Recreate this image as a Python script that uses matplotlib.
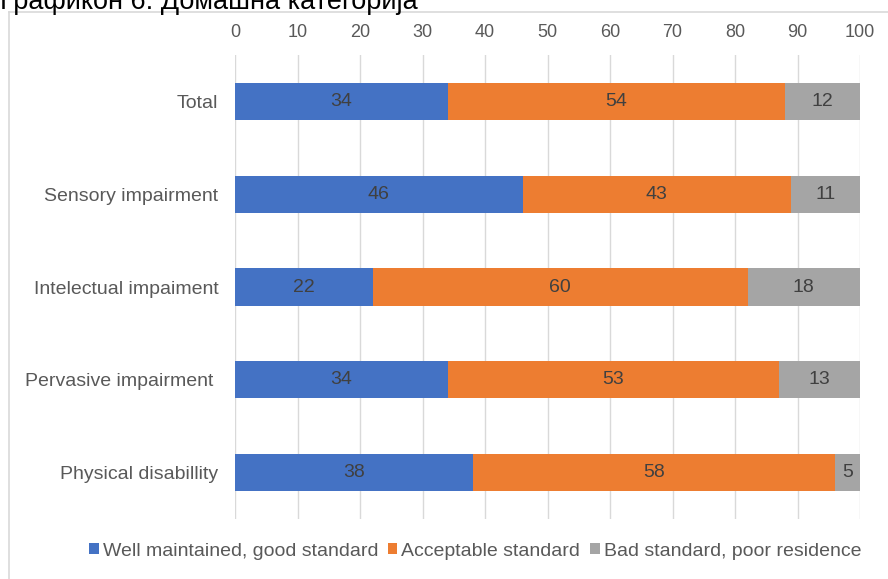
import matplotlib.pyplot as plt
from matplotlib.lines import Line2D
import numpy as np

categories = ["Total", "Sensory impairment", "Intelectual impaiment",
              "Pervasive impairment ", "Physical disabillity"]
good = [34, 46, 22, 34, 38]
acceptable = [54, 43, 60, 53, 58]
bad = [12, 11, 18, 13, 5]
series_names = ["Well maintained, good standard", "Acceptable standard",
                "Bad standard, poor residence"]
title = "Графикон 6: Домашна категорија"

BLUE = "#4472C4"
ORANGE = "#ED7D31"
GRAY = "#A5A5A5"
TXT = "#595959"

plt.rcParams["font.family"] = ["Liberation Sans", "DejaVu Sans"]

fig = plt.figure(figsize=(8.88, 5.79), dpi=100)
ax = fig.add_axes([235 / 888, 1 - 519 / 579, 625 / 888, 464 / 579])

# outer chart frame (only top/left edges visible)
fig.add_artist(Line2D([9 / 888, 9 / 888], [0, 1 - 12 / 579], color="#D9D9D9",
                      lw=1.2, transform=fig.transFigure))
fig.add_artist(Line2D([9 / 888, 1], [1 - 12 / 579, 1 - 12 / 579], color="#D9D9D9",
                      lw=1.2, transform=fig.transFigure))

# cut-off caption above the frame
fig.text(0.0, 1 - 9 / 579, title, fontsize=19.5, color="black", ha="left", va="baseline")

y = np.arange(len(categories))
h = 0.4
left = np.zeros(len(categories))
for vals, col, name in zip([good, acceptable, bad], [BLUE, ORANGE, GRAY], series_names):
    bars = ax.barh(y, vals, left=left, height=h, color=col, label=name, zorder=2)
    ax.bar_label(bars, labels=[str(v) for v in vals], label_type="center",
                 fontsize=14, color="#404040")
    left += np.array(vals)

ax.set_xlim(0, 100)
ax.set_ylim(len(categories) - 0.5, -0.5)
ax.set_xticks(range(0, 101, 10))
ax.xaxis.tick_top()
ax.tick_params(axis="x", length=0, pad=10, labelsize=13, labelcolor=TXT)
ax.set_yticks(y)
ax.set_yticklabels(categories)
ax.tick_params(axis="y", length=0, pad=12, labelsize=14, labelcolor=TXT)
ax.grid(axis="x", color="#D9D9D9", lw=1, zorder=0)
ax.set_axisbelow(True)
for s in ax.spines.values():
    s.set_visible(False)

fig.legend(loc="center", bbox_to_anchor=(475 / 888, 1 - 551 / 579), ncol=3, frameon=False,
           fontsize=14, handlelength=0.5, handleheight=0.5, handletextpad=0.2,
           columnspacing=0.5, labelcolor=TXT)

fig.savefig("out.png", dpi=100)
